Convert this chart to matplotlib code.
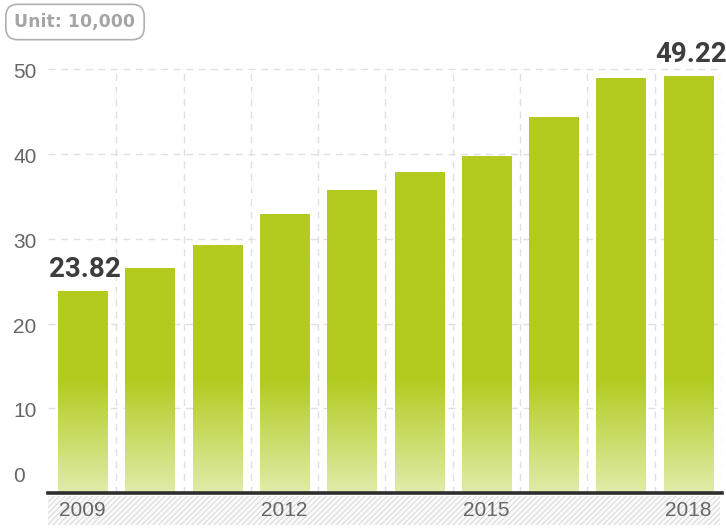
import numpy as np
import matplotlib
matplotlib.use("Agg")
import matplotlib.pyplot as plt
from matplotlib import transforms
from matplotlib.patches import Rectangle

# yearly totals, unit: 10,000
years = [2009, 2010, 2011, 2012, 2013, 2014, 2015, 2016, 2017, 2018]
values = [23.82, 26.6, 29.3, 32.9, 35.8, 37.9, 39.8, 44.4, 49.0, 49.22]
year_labels = ["2009", "2012", "2015", "2018"]
y_ticks = [0, 10, 20, 30, 40, 50]
labelled = [0, 9]  # bars whose value is printed on top

TOP_GREEN = np.array([178, 203, 30]) / 255.0
PALE_GREEN = np.array([224, 236, 170]) / 255.0
FADE_FROM = 13.5  # below this value the bar fades out
TEXT_GREY = "#666666"

plt.rcParams["font.family"] = ["Liberation Sans", "DejaVu Sans"]
plt.rcParams["hatch.linewidth"] = 0.6

fig = plt.figure(figsize=(7.26, 5.28), dpi=100)
ax = fig.add_axes([48 / 726, 35 / 528, 674 / 726, 425.2 / 528])

x = np.arange(len(years))
bar_w = 0.73
bars = ax.bar(x, values, width=bar_w, color=TOP_GREEN, zorder=2)

# vertical gradient, same band height for every bar
for b, v in zip(bars, values):
    ys = np.linspace(0, v, 200)
    t = np.clip(ys / FADE_FROM, 0, 1)[:, None]
    rgb = PALE_GREEN * (1 - t) + TOP_GREEN * t
    img = np.repeat(rgb[:, None, :], 2, axis=1)
    x0 = b.get_x()
    im = ax.imshow(img, extent=(x0, x0 + bar_w, 0, v), origin="lower",
                   aspect="auto", zorder=3, interpolation="bilinear")
    im.set_clip_path(b)

ax.set_xlim(-0.513, 9.5)
ax.set_ylim(0, 50.2)

# dashed grid behind the bars
ax.set_yticks(y_ticks)
ax.set_xticks(np.arange(0.5, 10, 1), minor=True)
ax.set_xticks([])
ax.grid(axis="y", which="major", color="#e0e0e0", ls=(0, (5, 4)), lw=1.0, zorder=0)
ax.grid(axis="x", which="minor", color="#e0e0e0", ls=(0, (5, 4)), lw=1.0, zorder=0)
ax.set_axisbelow(True)
ax.tick_params(left=False, labelleft=False, bottom=False, which="both")

for s in ["top", "right", "left"]:
    ax.spines[s].set_visible(False)
ax.spines["bottom"].set_color("#2e2e2e")
ax.spines["bottom"].set_linewidth(2.6)
ax.spines["bottom"].set_zorder(5)

# y labels sit left-aligned at the figure edge
ylab_tr = transforms.blended_transform_factory(fig.transFigure, ax.transData)
for v in y_ticks:
    dy = 17 if v == 0 else -3.5
    tr = ylab_tr + transforms.ScaledTranslation(0, dy / 100, fig.dpi_scale_trans)
    ax.text(13 / 726, v, str(v), transform=tr, ha="left", va="center",
            fontsize=15, color=TEXT_GREY, clip_on=False)

# hatched strip under the axis, kept behind the axes
fig.patches.append(Rectangle((48 / 726, 3 / 528), 672 / 726, 29 / 528,
                             transform=fig.transFigure, facecolor="#fafafa",
                             edgecolor="#d2d2d2", hatch="//////", lw=0, zorder=-1))
ax.patch.set_alpha(0)

for lab in year_labels:
    xi = years.index(int(lab))
    ax.text(xi, 0, lab, ha="center", va="center", fontsize=15, color=TEXT_GREY,
            transform=ax.transData + transforms.ScaledTranslation(0, -18 / 100, fig.dpi_scale_trans),
            clip_on=False, zorder=6)

for i in labelled:
    ax.annotate(f"{values[i]:.2f}", (x[i], values[i]), xytext=(2, 6),
                textcoords="offset points", ha="center", va="bottom",
                fontsize=20, fontweight="bold", family="Roboto", color="#3d3d3d",
                annotation_clip=False)

fig.text(75 / 726, 1 - 22 / 528, "Unit: 10,000", ha="center", va="center",
         fontsize=12.5, fontweight="bold", family="DejaVu Sans", color="#a5a5a5",
         bbox=dict(boxstyle="round,pad=0.5,rounding_size=0.7", fc="white",
                   ec="#b0b0b0", lw=1.2))

fig.savefig("out.png", dpi=100, facecolor="white")
